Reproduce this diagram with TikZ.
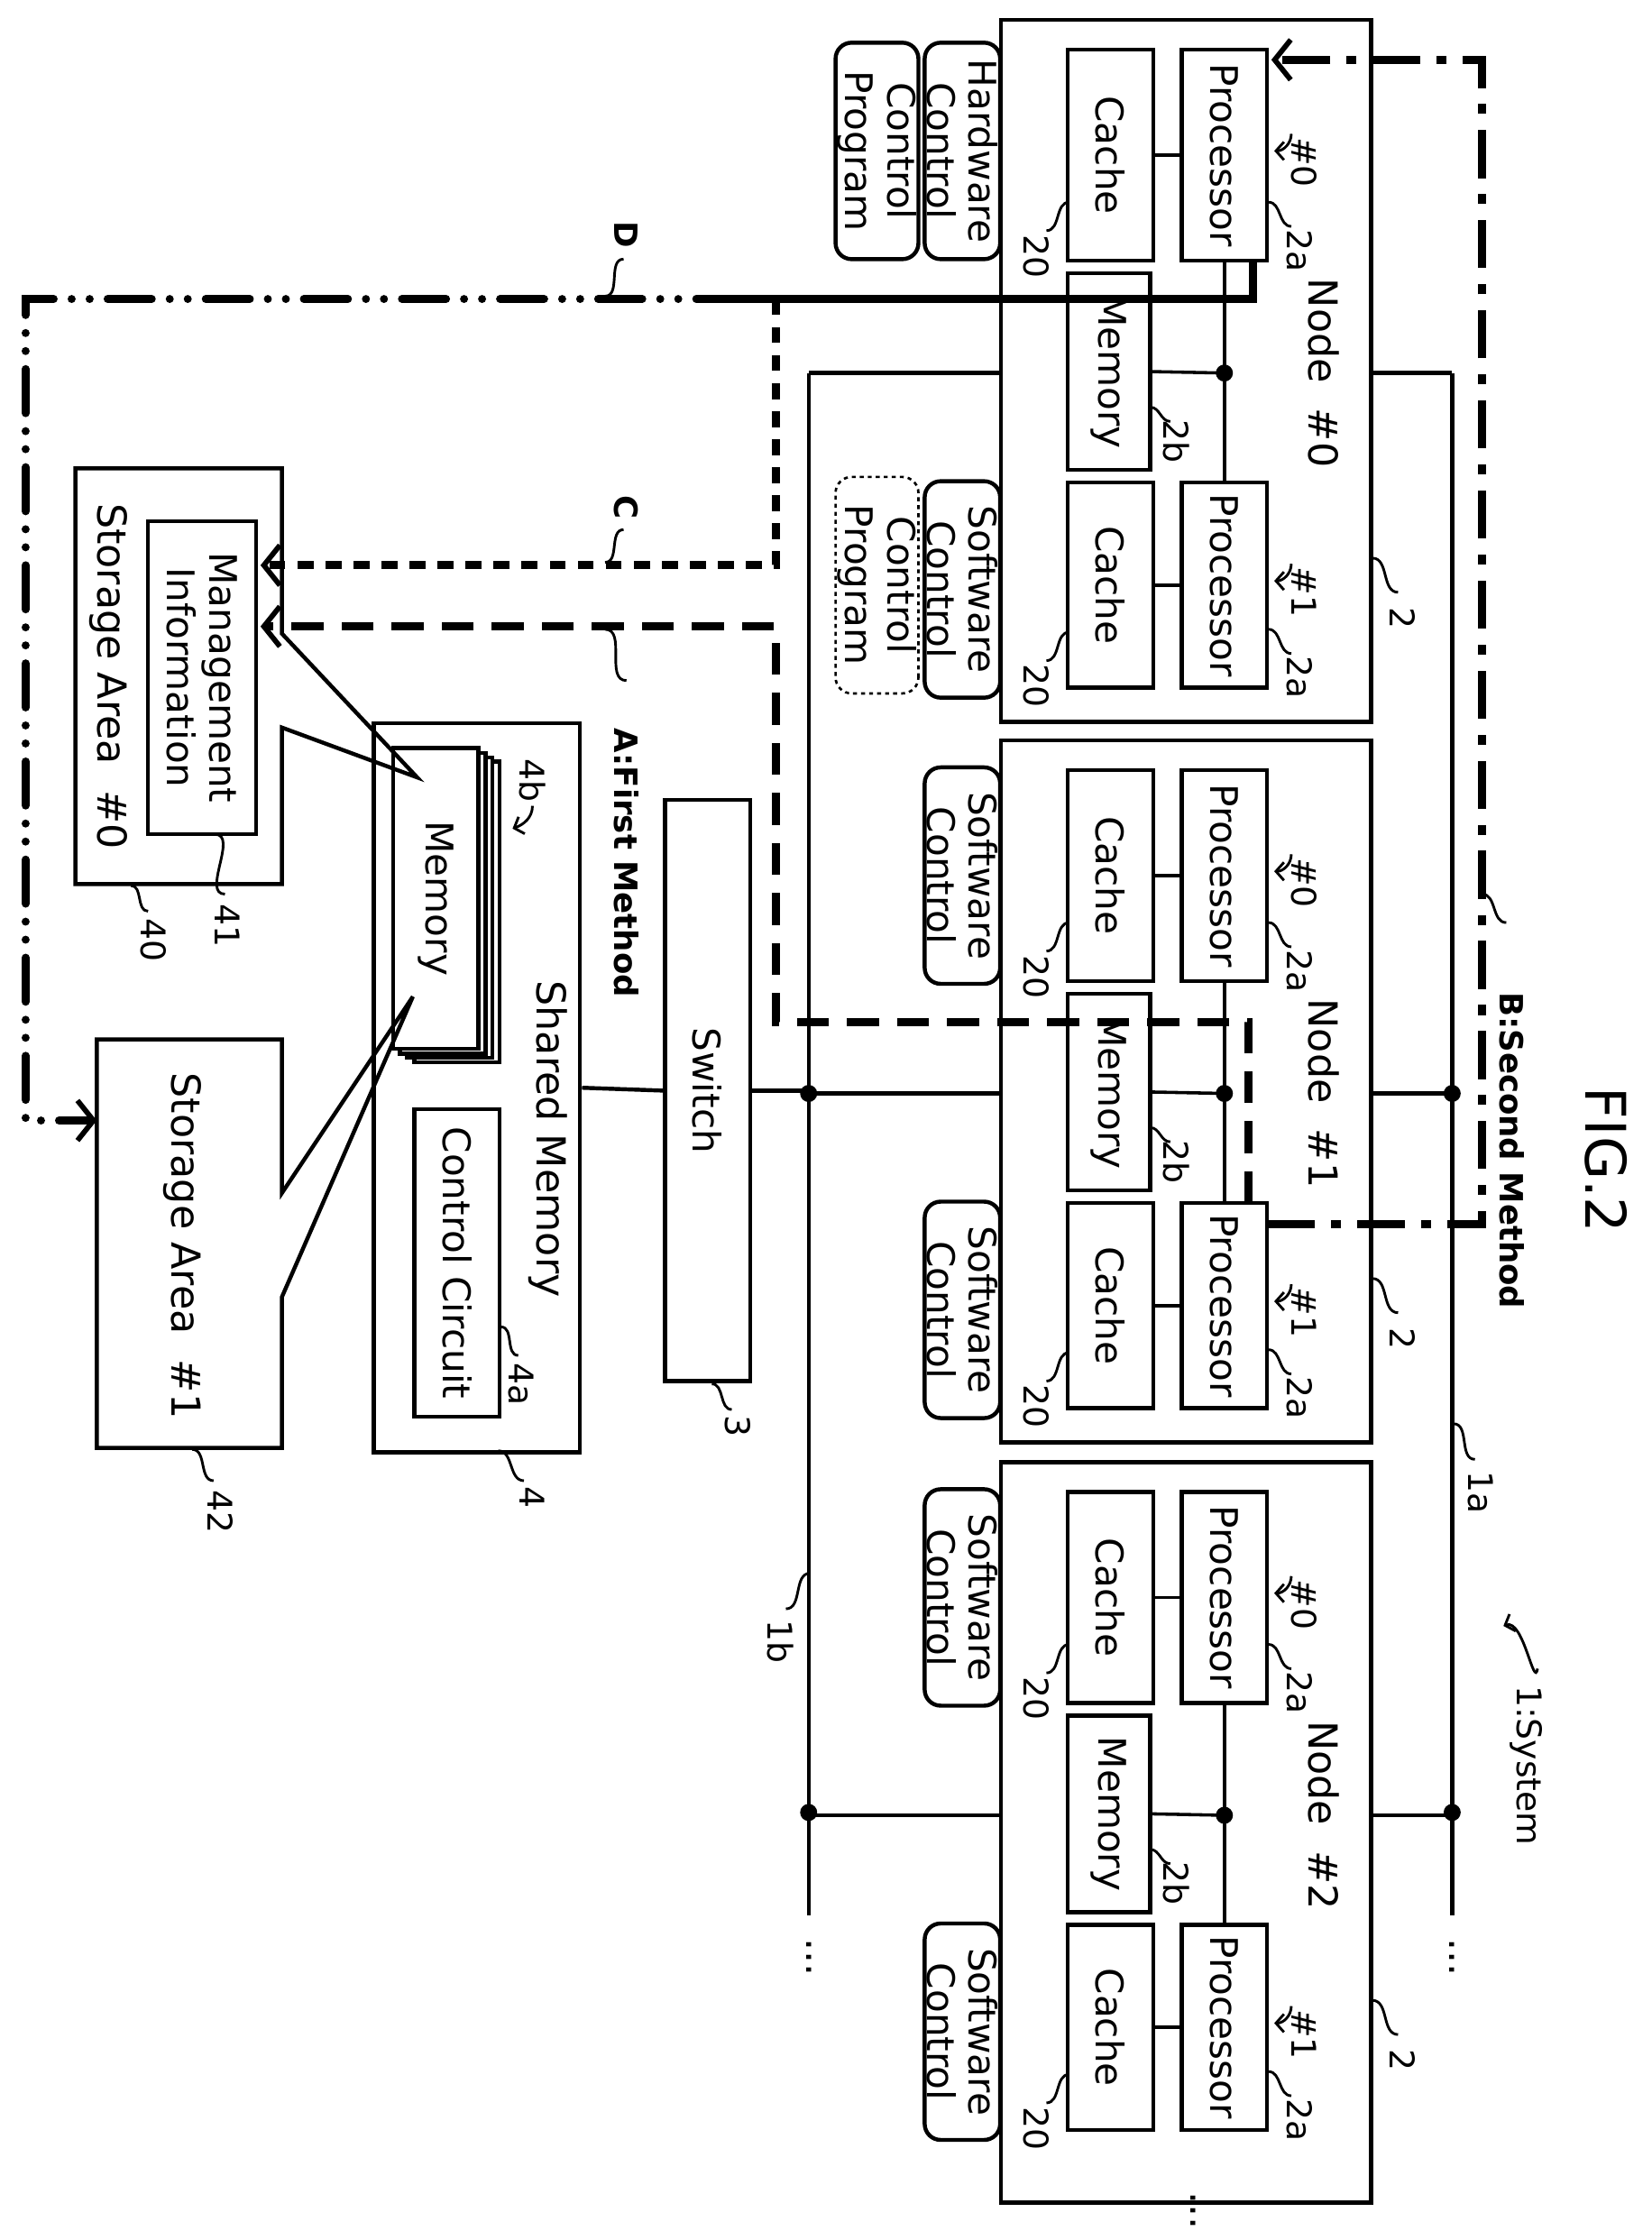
\documentclass[tikz,border=0pt]{standalone}
\usepackage{fontspec}
\setmainfont{DejaVu Sans}
\usetikzlibrary{arrows.meta,positioning}
\tikzset{
  box/.style={draw, line width=2pt, rotate=-90, inner sep=1pt, align=center,
    font=\fontsize{19}{21}\selectfont},
  soft/.style={box, rounded corners=8pt, minimum width=3.8cm, minimum height=1.2cm},
  lab/.style={rotate=-90, font=\fontsize{20}{22}\selectfont, align=center},
  num/.style={rotate=-90, font=\fontsize{17}{19}\selectfont, inner sep=1pt},
  meth/.style={rotate=-90, font=\fontsize{16}{18}\selectfont\bfseries, inner sep=1pt},
  leader/.style={line width=1.3pt},
  small tip/.style={-{Straight Barb[length=4pt,width=9pt]}, line width=1.3pt},
  wire/.style={line width=1.6pt},
  bus/.style={line width=2pt},
  tip/.style={-{Straight Barb[length=8pt,width=20pt,line width=2.6pt]}},
  methA/.style={line width=4pt, dash pattern=on 16pt off 9pt},
  methB/.style={line width=4pt, dash pattern=on 24pt off 8pt on 5pt off 8pt},
  methC/.style={line width=4pt, dash pattern=on 8pt off 6pt},
  methD/.style={line width=4pt, line cap=round, dash pattern=on 22pt off 9pt on 0pt off 9pt on 0pt off 9pt},
}
\begin{document}
\begin{tikzpicture}[x=0.025cm, y=-0.025cm]
\useasboundingbox (0,0) rectangle (1160,1567);
% Nodes #0 .. #2
\foreach \i/\yt/\h in {0/14/493, 1/520/493, 2/1027/520} {
  \node[box, minimum width=\h*0.025cm, minimum height=6.5cm] (n\i) at (833,{\yt+\h/2}) {};
  \node[box, minimum width=3.7cm, minimum height=1.5cm] (pa\i) at (860,\yt+95) {Processor};
  \node[box, minimum width=3.7cm, minimum height=1.5cm] (ca\i) at (780,\yt+95) {Cache};
  \node[box, minimum width=3.45cm, minimum height=1.45cm] (m\i) at (779,\yt+247) {Memory};
  \node[box, minimum width=3.6cm, minimum height=1.5cm] (pb\i) at (860,\yt+397) {Processor};
  \node[box, minimum width=3.6cm, minimum height=1.5cm] (cb\i) at (780,\yt+397) {Cache};
  \draw[wire] (ca\i.north) -- (pa\i.south);
  \draw[wire] (cb\i.north) -- (pb\i.south);
  \draw[wire] (pa\i.east) -- (pb\i.west);
  \coordinate (j\i) at (860,\yt+248);
  \draw[wire] (m\i.north) -- (j\i);
  \fill (j\i) circle (6);
  \node[lab] at (930,\yt+248) {Node \ \#\i};
  \node[soft] (sb\i) at (676,\yt+400) {Software\\Control};
  % reference labels
  \node[num] (h0\i) at (916,\yt+100) {\#0};
  \draw[small tip] (907,\yt+80) to[out=-90,in=0] (895,\yt+92);
  \node[num] (h1\i) at (916,\yt+402) {\#1};
  \draw[small tip] (907,\yt+382) to[out=-90,in=0] (895,\yt+394);
  \node[num] (ra\i) at (913,\yt+162) {2a};
  \draw[leader] (891,\yt+128) to[out=0,in=180] (907,\yt+145);
  \node[num] (rb\i) at (913,\yt+462) {2a};
  \draw[leader] (891,\yt+428) to[out=0,in=180] (907,\yt+445);
  \node[num] (s0\i) at (728,\yt+166) {20};
  \draw[leader] (751,\yt+128) to[out=180,in=0] (735,\yt+148);
  \node[num] (s1\i) at (728,\yt+468) {20};
  \draw[leader] (751,\yt+430) to[out=180,in=0] (735,\yt+450);
  \node[num] (rm\i) at (826,\yt+296) {2b};
  \draw[leader] (808,\yt+272) to[out=0,in=180] (822,\yt+282);
  \node[num] (rn\i) at (985,\yt+420) {2};
  \draw[leader] (964,\yt+378) to[out=0,in=180] (982,\yt+402);
  % buses
  \draw[bus] (n\i.north |- j\i) -- (1020,\yt+248);
  \draw[bus] (n\i.south |- j\i) -- (568,\yt+248);
}
\node[soft] (hw) at (676,106) {Hardware\\Control};
\node[soft, minimum width=3.8cm, minimum height=1.45cm] (cp0) at (616,106) {Control\\Program};
\node[soft, dotted, line width=1.2pt, minimum width=3.8cm, minimum height=1.45cm] (cp1) at (616,411) {Control\\Program};
\foreach \i/\yt in {1/520, 2/1027} {
  \node[soft] (sa\i) at (676,\yt+95) {Software\\Control};
}
% buses 1a, 1b
\draw[bus] (1020,262) -- (1020,1345);
\draw[bus] (568,262) -- (568,1345);
\foreach \y in {768,1273} {\fill (1020,\y) circle (6); \fill (568,\y) circle (6);}
\node[lab] at (1020,1375) {...};
\node[lab] at (568,1375) {...};
\node[lab] at (838,1553) {...};
\node[num] (la) at (1040,1048) {1a};
\draw[leader] (1021,1000) to[out=0,in=180] (1036,1025);
\node[num] (lb) at (548,1153) {1b};
\draw[leader] (569,1105) to[out=180,in=0] (552,1130);
\node[num] (sys) at (1072,1240) {1:System};
\draw[small tip] (1080,1172) to[out=-100,in=20] (1056,1142);
% switch and shared memory
\node[box, minimum width=10.2cm, minimum height=1.5cm] (sw) at (497,766) {Switch};
\node[num] at (518,1002) {3};
\draw[leader] (500,972) to[out=0,in=180] (514,990);
\draw[bus] (sw.north) -- (568,766);
\node[box, minimum width=12.8cm, minimum height=3.62cm] (shm) at (335,764) {};
\draw[bus] (shm.north) -- (sw.south);
\node[lab] at (385,800) {Shared Memory};
\foreach \k in {3,2,1} {
  \draw[line width=2pt, fill=white] (276+5*\k,526+3*\k) rectangle (336+5*\k,737+3*\k);
}
\node[box, fill=white, minimum width=5.28cm, minimum height=1.5cm] (smem) at (306,631) {Memory};
\node[num] at (374,548) {4b};
\draw[small tip] (374,566) to[out=-90,in=20] (360,582);
\node[box, minimum width=5.4cm, minimum height=1.5cm] (cc) at (321,887) {Control Circuit};
\node[num] at (366,972) {4a};
\draw[leader] (352,932) to[out=0,in=180] (364,952);
\node[num] at (374,1052) {4};
\draw[leader] (350,1019) to[out=0,in=180] (368,1040);
% storage areas with callouts
\draw[line width=2pt] (53,329) -- (198,329) -- (198,445) -- (293,546) -- (198,511)
  -- (198,621) -- (53,621) -- cycle;
\node[lab] (st0) at (76,475) {Storage Area \ \#0};
\node[box, minimum width=5.5cm, minimum height=1.9cm] (mi) at (142,476) {Management\\Information};
\node[num] at (160,650) {41};
\draw[leader] (151,586) to[out=0,in=180] (158,628);
\node[num] at (108,660) {40};
\draw[leader] (92,622) to[out=0,in=180] (104,640);
\draw[line width=2pt] (68,730) -- (198,730) -- (198,838) -- (290,700) -- (198,911)
  -- (198,1017) -- (68,1017) -- cycle;
\node[lab] (st1) at (128,875) {Storage Area \ \#1};
\node[num] at (155,1062) {42};
\draw[leader] (135,1018) to[out=0,in=180] (150,1040);
% methods
\draw[methB, tip] (890,860) -- (1041,860) -- (1041,42) -- (893,42);
\node[meth] at (1062,808) {B:Second Method};
\draw[leader] (1041,628) to[out=0,in=180] (1058,648);
\draw[methA, tip] (877,845) -- (877,718) -- (545,718) -- (545,440) -- (183,440);
\node[meth] at (440,606) {A:First Method};
\draw[leader] (425,442) to[out=0,in=180] (440,478);
\draw[line width=4pt] (880,183) -- (880,210) -- (520,210);
\draw[methC, tip] (545,210) -- (545,397) -- (183,397);
\node[meth] at (440,356) {C};
\draw[leader] (425,395) to[out=0,in=180] (438,372);
\draw[methD, tip] (520,210) -- (18,210) -- (18,787) -- (68,787);
\node[meth] at (440,165) {D};
\draw[leader] (425,208) to[out=0,in=180] (438,182);
\node[rotate=-90, font=\fontsize{28}{30}\selectfont] at (1128,815) {FIG.2};
\end{tikzpicture}
\end{document}
